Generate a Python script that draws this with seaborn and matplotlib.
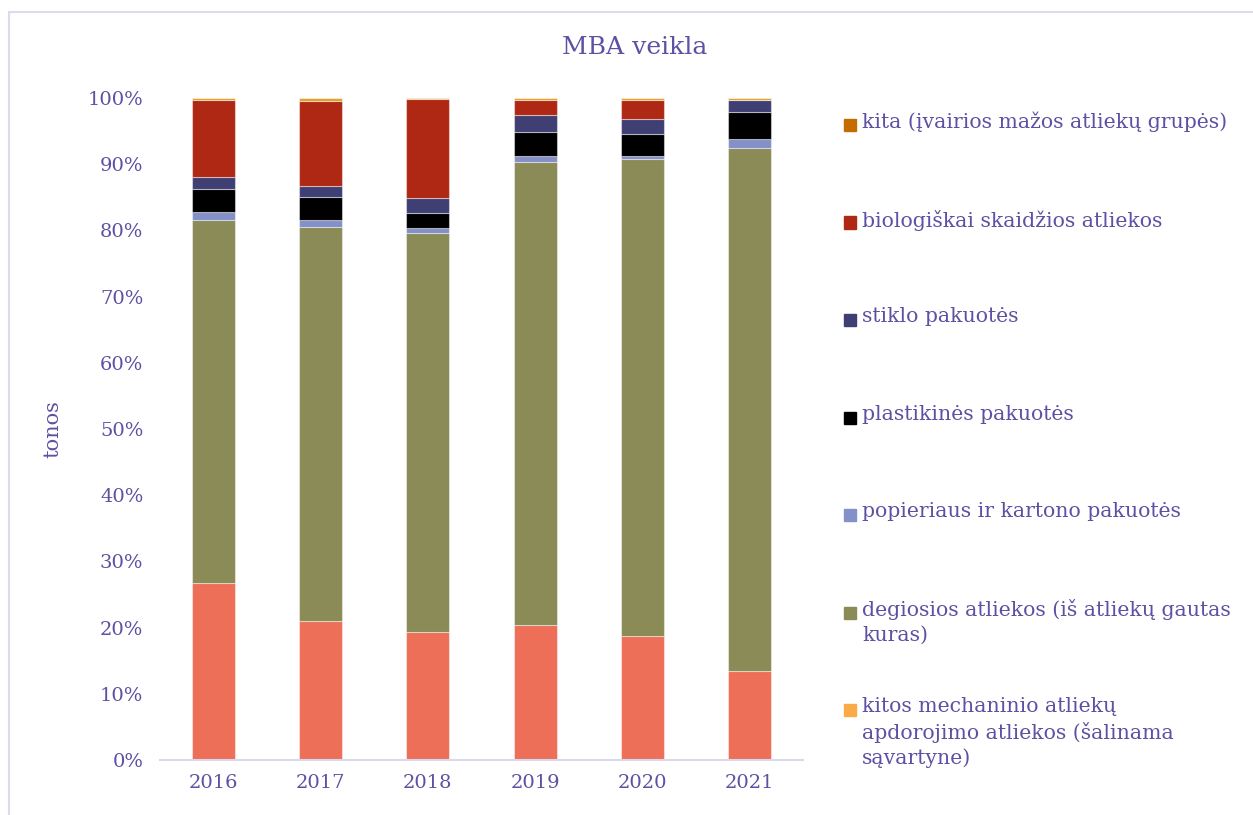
import numpy as np
import pandas as pd
import matplotlib
matplotlib.use('Agg')
import matplotlib.pyplot as plt
from matplotlib.patches import Rectangle
from matplotlib.lines import Line2D
import seaborn as sns

years = ['2016', '2017', '2018', '2019', '2020', '2021']

# shares in %, bottom to top
kitos_mech = [26.7, 21.0, 19.3, 20.4, 18.8, 13.5]
degiosios = [54.8, 59.5, 60.3, 69.9, 72.0, 79.0]
popierius = [1.3, 1.1, 0.8, 0.9, 0.4, 1.3]
plastikas = [3.5, 3.5, 2.3, 3.7, 3.3, 4.1]
stiklas = [1.8, 1.6, 2.2, 2.5, 2.4, 1.8]
bio = [11.6, 12.9, 14.9, 2.3, 2.8, 0.0]
kita = [0.3, 0.4, 0.2, 0.3, 0.3, 0.3]

labels = [
    'kitos mechaninio atliekų\napdorojimo atliekos (šalinama\nsąvartyne)',
    'degiosios atliekos (iš atliekų gautas\nkuras)',
    'popieriaus ir kartono pakuotės',
    'plastikinės pakuotės',
    'stiklo pakuotės',
    'biologiškai skaidžios atliekos',
    'kita (įvairios mažos atliekų grupės)',
]
series = [kitos_mech, degiosios, popierius, plastikas, stiklas, bio, kita]
bar_colors = ['#EE6F57', '#8A8B56', '#8490C8', '#000000', '#403F74', '#AF2814', '#E0A030']
legend_colors = ['#FBAA48', '#8A8B56', '#8490C8', '#000000', '#403F74', '#AF2814', '#C46C00']

TXT = '#5E50A2'

sns.set_theme(style='white')
plt.rcParams['font.family'] = ['DejaVu Serif']

fig = plt.figure(figsize=(12.53, 8.15), dpi=100)
ax = fig.add_axes([160 / 1253, 1 - 760 / 815, (803 - 160) / 1253, 662 / 815])

bottom = np.zeros(len(years))
for vals, col in zip(series, bar_colors):
    df = pd.DataFrame({'year': years, 'val': vals})
    sns.barplot(data=df, x='year', y='val', color=col, width=0.4, bottom=bottom,
                edgecolor=(1, 1, 1, 0.45), linewidth=0.8, saturation=1, ax=ax)
    bottom = bottom + np.array(vals)

ax.set_xlim(-0.5, 5.5)
ax.set_ylim(0, 100)
ax.set_yticks(np.arange(0, 101, 10))
ax.set_yticklabels([f'{v}%' for v in range(0, 101, 10)])
ax.tick_params(axis='both', length=0, labelsize=14, colors=TXT)
ax.tick_params(axis='y', pad=12)
ax.tick_params(axis='x', pad=10)
ax.set_xlabel('')
ax.set_ylabel('tonos', fontsize=15, color=TXT, labelpad=18)
for s in ['left', 'right', 'top']:
    ax.spines[s].set_visible(False)
ax.spines['bottom'].set_color('#D9D8EC')
ax.spines['bottom'].set_linewidth(1.5)

fig.text(635 / 1253, 1 - 47 / 815, 'MBA veikla', ha='center', va='center',
         fontsize=18, color=TXT)

# legend, top entry first
y0 = 125
step = 97.5
for i, (lab, col) in enumerate(zip(labels[::-1], legend_colors[::-1])):
    y = y0 + i * step
    fig.patches.append(Rectangle((844 / 1253, 1 - (y + 6) / 815), 12 / 1253, 12 / 815,
                                 transform=fig.transFigure, color=col, figure=fig))
    fig.text(862 / 1253, 1 - (y - 13) / 815, lab, ha='left', va='top',
             fontsize=14.7, color=TXT, linespacing=1.35)

# outer frame (top and left edges only visible)
fx, fy = 8.5 / 1253, 1 - 11.5 / 815
fig.lines.append(Line2D([fx, 1], [fy, fy], transform=fig.transFigure,
                        color='#DCDAEC', linewidth=1.5, figure=fig))
fig.lines.append(Line2D([fx, fx], [0, fy], transform=fig.transFigure,
                        color='#DCDAEC', linewidth=1.5, figure=fig))

fig.savefig('out.png', dpi=100)
